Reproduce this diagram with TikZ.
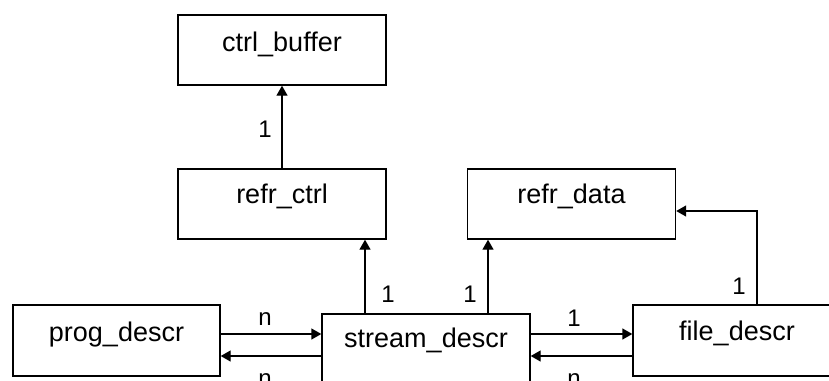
\documentclass[tikz,border=0pt]{standalone}
\usepackage{fontspec}
\setmainfont{Liberation Sans}
\usetikzlibrary{arrows.meta}
\begin{document}
\begin{tikzpicture}[x=1pt,y=-1pt,
  box/.style={draw=black,line width=1.4pt,inner sep=0pt,minimum width=208pt,minimum height=70pt},
  boxtext/.style={anchor=base,inner sep=0pt,font=\fontsize{27}{30}\selectfont},
  mult/.style={anchor=base,inner sep=0pt,font=\fontsize{24}{28}\selectfont},
  arr/.style={line width=1.4pt,-{Triangle[length=10pt,width=11pt]}}]
\useasboundingbox (0,0) rectangle (829,380);
\clip (0,0) rectangle (829,380);
\fill[white] (0,0) rectangle (829,380);

% entity boxes
\node[box] (cb) at (282,50) {};
\node[box] (rc) at (282,204) {};
\node[box] (rd) at (571.5,204) {};
\node[box,minimum width=207pt,minimum height=71pt] (pd) at (116.5,340.5) {};
\node[box] (sd) at (426,349) {};
\node[box,minimum height=71pt] (fd) at (737,340.5) {};

% box titles
\node[boxtext] (cbt) at (282,51) {ctrl\_buffer};
\node[boxtext] (rct) at (282,203) {refr\_ctrl};
\node[boxtext] (rdt) at (571.5,203) {refr\_data};
\node[boxtext] (pdt) at (116.5,341) {prog\_descr};
\node[boxtext] (sdt) at (426,347) {stream\_descr};
\node[boxtext] (fdt) at (737,340) {file\_descr};

% helper positions for the connectors
\coordinate (xa) at (365,0);
\coordinate (xb) at (488,0);
\coordinate (xc) at (757,0);
\coordinate (ya) at (0,211);
\coordinate (yh) at (0,334);
\coordinate (yl) at (0,356);

% connectors
\draw[arr] (rc.north) -- (cb.south);
\draw[arr] (sd.north -| xa) -- (rc.south -| xa);
\draw[arr] (sd.north -| xb) -- (rd.south -| xb);
\draw[arr] (fd.north -| xc) -- (ya -| xc) -- (ya -| rd.east);
\draw[arr] (pd.east |- yh) -- (sd.west |- yh);
\draw[arr] (sd.west |- yl) -- (pd.east |- yl);
\draw[arr] (sd.east |- yh) -- (fd.west |- yh);
\draw[arr] (fd.west |- yl) -- (sd.east |- yl);

% multiplicities
\node[mult] (m1) at (265,137) {1};
\node[mult] (m2) at (388,302) {1};
\node[mult] (m3) at (470,302) {1};
\node[mult] (m4) at (739,294) {1};
\node[mult] (m5) at (265,325) {n};
\node[mult] (m6) at (265,386) {n};
\node[mult] (m7) at (574,326) {1};
\node[mult] (m8) at (574,386) {n};
\end{tikzpicture}
\end{document}
